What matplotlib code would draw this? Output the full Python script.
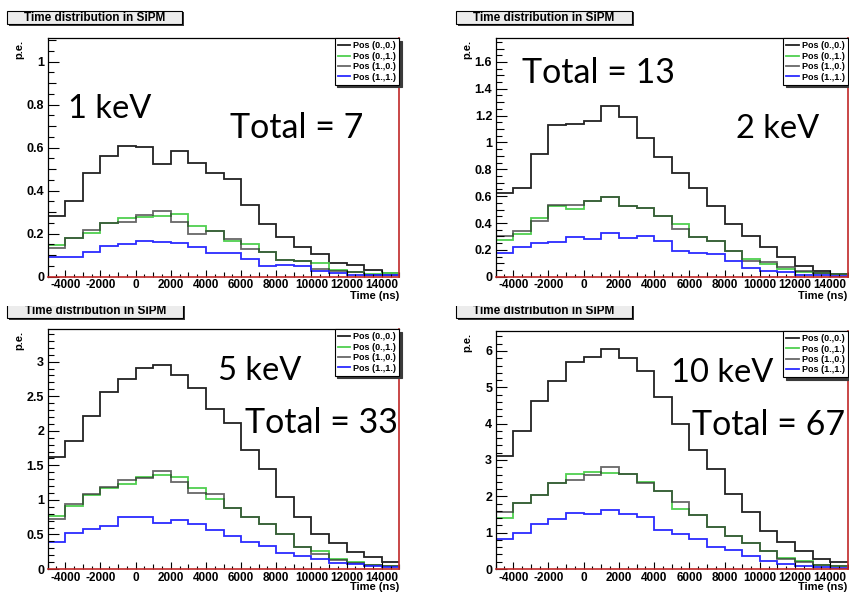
import matplotlib
matplotlib.use('Agg')
import matplotlib.pyplot as plt
from matplotlib.patches import Rectangle
from matplotlib.ticker import MultipleLocator, FuncFormatter

plt.rcParams['axes.unicode_minus'] = False
plt.rcParams['font.family'] = ['Liberation Sans', 'DejaVu Sans']
plt.rcParams['font.weight'] = 'bold'

# ---------------- data ----------------
edges = list(range(-5000, 15001, 1000))
series_labels = ['Pos (0.,0.)', 'Pos (0.,1.)', 'Pos (1.,0.)', 'Pos (1.,1.)']
title_text = 'Time distribution in SiPM'
x_label = 'Time (ns)'
y_label = 'p.e.'
energy_labels = ['1 keV', '2 keV', '5 keV', '10 keV']
total_labels = ['Total = 7', 'Total = 13', 'Total = 33', 'Total = 67']

kev1_pos00 = [0.284, 0.353, 0.484, 0.562, 0.609, 0.605, 0.526, 0.586, 0.528, 0.481,
              0.454, 0.334, 0.245, 0.184, 0.138, 0.107, 0.066, 0.055, 0.029, 0.017]
kev1_pos01 = [0.147, 0.179, 0.202, 0.248, 0.271, 0.279, 0.282, 0.291, 0.236, 0.214,
              0.165, 0.152, 0.113, 0.079, 0.074, 0.064, 0.029, 0.020, 0.011, 0.017]
kev1_pos10 = [0.132, 0.179, 0.217, 0.248, 0.256, 0.287, 0.306, 0.256, 0.198, 0.214,
              0.175, 0.129, 0.113, 0.079, 0.071, 0.037, 0.028, 0.020, 0.009, 0.009]
kev1_pos11 = [0.090, 0.093, 0.116, 0.144, 0.152, 0.166, 0.160, 0.156, 0.139, 0.108,
              0.109, 0.083, 0.051, 0.054, 0.051, 0.025, 0.017, 0.009, 0.006, 0.008]

kev2_pos00 = [0.621, 0.663, 0.914, 1.130, 1.135, 1.160, 1.275, 1.190, 1.036, 0.894,
              0.775, 0.658, 0.530, 0.395, 0.300, 0.220, 0.150, 0.080, 0.042, 0.020]
kev2_pos01 = [0.273, 0.318, 0.435, 0.527, 0.505, 0.564, 0.597, 0.529, 0.514, 0.452,
              0.390, 0.298, 0.266, 0.190, 0.132, 0.094, 0.055, 0.038, 0.025, 0.020]
kev2_pos10 = [0.303, 0.343, 0.418, 0.532, 0.532, 0.564, 0.597, 0.529, 0.514, 0.452,
              0.353, 0.298, 0.266, 0.190, 0.117, 0.110, 0.075, 0.040, 0.025, 0.020]
kev2_pos11 = [0.174, 0.224, 0.249, 0.261, 0.298, 0.279, 0.328, 0.291, 0.303, 0.266,
              0.194, 0.174, 0.167, 0.120, 0.062, 0.045, 0.038, 0.013, 0.010, 0.007]

kev5_pos00 = [1.616, 1.857, 2.214, 2.566, 2.749, 2.913, 2.952, 2.807, 2.614, 2.315,
              2.108, 1.722, 1.447, 1.047, 0.750, 0.510, 0.372, 0.241, 0.170, 0.106]
kev5_pos01 = [0.772, 0.916, 1.071, 1.167, 1.225, 1.336, 1.360, 1.336, 1.170, 1.020,
              0.878, 0.750, 0.655, 0.502, 0.323, 0.261, 0.145, 0.107, 0.058, 0.044]
kev5_pos10 = [0.723, 0.936, 1.085, 1.190, 1.288, 1.320, 1.418, 1.264, 1.100, 1.085,
              0.878, 0.750, 0.655, 0.502, 0.323, 0.217, 0.130, 0.092, 0.058, 0.044]
kev5_pos11 = [0.395, 0.516, 0.579, 0.627, 0.752, 0.752, 0.661, 0.705, 0.655, 0.560,
              0.483, 0.396, 0.338, 0.236, 0.188, 0.140, 0.092, 0.073, 0.044, 0.025]

kev10_pos00 = [3.12, 3.80, 4.63, 5.18, 5.71, 5.84, 6.05, 5.82, 5.45, 4.74,
               3.99, 3.28, 2.74, 2.06, 1.58, 1.04, 0.75, 0.49, 0.28, 0.18]
kev10_pos01 = [1.41, 1.81, 2.04, 2.36, 2.61, 2.68, 2.65, 2.61, 2.40, 2.14,
               1.65, 1.49, 1.15, 0.92, 0.72, 0.49, 0.31, 0.22, 0.11, 0.08]
kev10_pos10 = [1.56, 1.81, 2.04, 2.36, 2.45, 2.59, 2.82, 2.61, 2.37, 2.14,
               1.84, 1.49, 1.15, 0.92, 0.72, 0.49, 0.275, 0.18, 0.11, 0.08]
kev10_pos11 = [0.83, 0.98, 1.23, 1.37, 1.53, 1.52, 1.62, 1.52, 1.42, 1.08,
               0.96, 0.82, 0.615, 0.523, 0.367, 0.22, 0.137, 0.083, 0.046, 0.018]

panels_data = [
    [kev1_pos00, kev1_pos01, kev1_pos10, kev1_pos11],
    [kev2_pos00, kev2_pos01, kev2_pos10, kev2_pos11],
    [kev5_pos00, kev5_pos01, kev5_pos10, kev5_pos11],
    [kev10_pos00, kev10_pos01, kev10_pos10, kev10_pos11],
]

# ---------------- layout / style ----------------
W, H = 849, 594
def fx(x):
    return x / W
def fy(y):
    return 1 - y / H

axes_px = [(47.7, 38.3, 399.3, 276.7), (495.7, 38.3, 847.7, 276.7),
           (47.7, 329.3, 399.3, 569.0), (495.7, 331.0, 847.7, 569.0)]
ylims = [1.109, 1.776, 3.468, 6.55]
ymajor = [0.2, 0.2, 0.5, 1.0]
yminor = [0.05, 0.05, 0.1, 0.2]
ymedium = [0.1, 0.1, None, None]
title_boxes = [(7.3, 10.7, 182.3, 24.0), (456.0, 10.7, 631.7, 24.0),
               (7.3, 304.0, 183.3, 318.0), (456.0, 304.0, 632.0, 318.0)]
energy_pos = [(68, 118.3), (736, 138.3), (218, 380.0), (671, 381.7)]
total_pos = [(230, 138.3), (522, 83.3), (245, 433.3), (692, 435.0)]
ylabel_dx = 28.7
xlabel_gap = [14.5, 14.5, 13.5, 13.5]

colors = ['#161616', '#4fcf4f', '#2e2e2e', '#1f1fff']
alphas = [0.95, 1.0, 0.72, 0.95]
red = '#c02828'

fig = plt.figure(figsize=(W / 100, H / 100), dpi=100)
fig.patch.set_facecolor('white')

for i in range(4):
    x0, y0, x1, y1 = axes_px[i]
    ax = fig.add_axes([fx(x0), fy(y1), (x1 - x0) / W, (y1 - y0) / H])
    for j in range(4):
        ax.stairs(panels_data[i][j], edges, color=colors[j], alpha=alphas[j],
                  linewidth=1.3, baseline=None, label=series_labels[j])
    ax.set_xlim(edges[0], edges[-1])
    ax.set_ylim(0, ylims[i])

    ax.xaxis.set_major_locator(MultipleLocator(2000))
    ax.xaxis.set_minor_locator(MultipleLocator(500))
    ax.yaxis.set_major_locator(MultipleLocator(ymajor[i]))
    ax.yaxis.set_minor_locator(MultipleLocator(yminor[i]))
    ax.yaxis.set_major_formatter(FuncFormatter(lambda v, p: '%g' % round(v, 3)))
    ax.xaxis.set_major_formatter(FuncFormatter(lambda v, p: '%d' % round(v)))

    ax.tick_params(axis='both', which='both', direction='in', top=False, right=False,
                   color='black', width=0.8)
    ax.tick_params(axis='y', which='major', length=8, pad=2.5, labelsize=9)
    ax.tick_params(axis='y', which='minor', length=4)
    ax.tick_params(axis='x', which='major', length=5, pad=2.0, labelsize=8.5)
    ax.tick_params(axis='x', which='minor', length=2.3)

    # medium-length ticks (ROOT style secondary divisions)
    locs = ax.yaxis.get_minorticklocs()
    ticks = ax.yaxis.get_minor_ticks(len(locs))
    if ymedium[i]:
        for t, loc in zip(ticks, locs):
            r = loc / ymedium[i]
            if abs(r - round(r)) < 1e-6:
                t.tick1line.set_markersize(6)
    xlocs = ax.xaxis.get_minorticklocs()
    xticks = ax.xaxis.get_minor_ticks(len(xlocs))
    for t, loc in zip(xticks, xlocs):
        r = loc / 1000.0
        if abs(r - round(r)) < 1e-6:
            t.tick1line.set_markersize(3.6)

    for s in ['left', 'top']:
        ax.spines[s].set_color('black')
        ax.spines[s].set_linewidth(0.9)
    ax.spines['right'].set_color(red)
    ax.spines['right'].set_linewidth(1.2)
    ax.spines['bottom'].set_color(red)
    ax.spines['bottom'].set_linewidth(1.2)

    ax.set_xlabel(x_label, fontsize=8, fontweight='bold', ha='right', va='top')
    ax.xaxis.set_label_coords(1.0, -xlabel_gap[i] / (y1 - y0))
    # y axis title, placed at the top-left outside the frame
    fig.text(fx(x0 - ylabel_dx), fy(y0 + 1.5), y_label, fontsize=8, fontweight='bold',
             rotation=90, rotation_mode='anchor', ha='right', va='center')

    leg = ax.legend(loc='upper right', bbox_to_anchor=(1.0, 1.0), borderaxespad=0.0,
                    fancybox=False, shadow={'color': '#3a3a3a', 'alpha': 1.0},
                    framealpha=1.0, edgecolor='black',
                    prop={'family': 'Liberation Sans', 'weight': 'bold', 'size': 6.5},
                    handlelength=1.4, handletextpad=0.3, labelspacing=0.15,
                    borderpad=0.35)
    leg.get_frame().set_linewidth(0.8)

    # annotations
    ex, ey = energy_pos[i]
    fig.text(fx(ex), fy(ey), energy_labels[i], family='Lato', fontweight='normal',
             fontsize=23.5, ha='left', va='baseline', color='black')
    tx, ty = total_pos[i]
    fig.text(fx(tx), fy(ty), total_labels[i], family='Lato', fontweight='normal',
             fontsize=24.5, ha='left', va='baseline', color='black')

    # title box with shadow
    bx0, by0, bx1, by1 = title_boxes[i]
    fig.add_artist(Rectangle((fx(bx0 + 1.8), fy(by1 + 1.8)), (bx1 - bx0) / W, (by1 - by0) / H,
                             transform=fig.transFigure, facecolor='#3a3a3a',
                             edgecolor='none', zorder=5))
    fig.add_artist(Rectangle((fx(bx0), fy(by1)), (bx1 - bx0) / W, (by1 - by0) / H,
                             transform=fig.transFigure, facecolor='#ececec',
                             edgecolor='black', linewidth=0.8, zorder=6))
    fig.text(fx((bx0 + bx1) / 2), fy((by0 + by1) / 2 + 0.5), title_text, fontsize=8.5,
             fontweight='bold', ha='center', va='center', zorder=7)

# lower title boxes are partly hidden by the upper panels' margin
for cx0, cx1 in [(0, 200), (440, 650)]:
    fig.add_artist(Rectangle((fx(cx0), fy(305.5)), (cx1 - cx0) / W, 9.0 / H,
                             transform=fig.transFigure, facecolor='white',
                             edgecolor='none', zorder=10))

fig.savefig('out.png', dpi=100, facecolor='white')
